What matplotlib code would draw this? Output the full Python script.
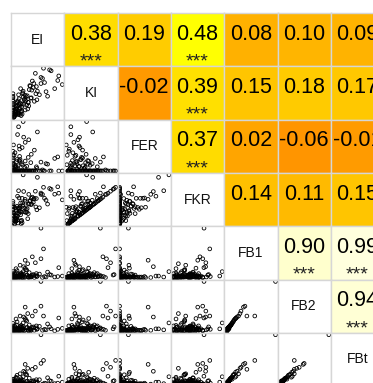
import matplotlib
matplotlib.use("Agg")
import matplotlib.pyplot as plt
from matplotlib.colors import LinearSegmentedColormap, Normalize

plt.rcParams['font.family'] = ['Liberation Sans', 'DejaVu Sans']

# ---------------- data ----------------
var_names = ["EI", "KI", "FER", "FKR", "FB1", "FB2", "FBt"]

EI = [55, 0, 0, 0, 0, 0, 0, 0, 0, 0,
      0, 0, 0, 0, 0, 3, 5, 6, 8, 10,
      12, 4, 7, 9, 11, 14, 16, 18, 20, 2,
      5, 8, 13, 15, 17, 22, 24, 26, 6, 9,
      12, 3, 10, 19, 21, 28, 30, 32, 35, 38,
      40, 42, 45, 27, 33, 36, 44, 48, 52, 58,
      62, 68, 75, 82, 90, 97, 1, 4, 7, 11,
      15, 23, 29, 34, 13, 16, 19, 25, 31, 37,
      2, 6, 14, 18, 20, 41, 47, 55, 65, 72,
      8, 12, 17, 24, 30, 9, 3, 46, 60, 88]

KI = [70, 10, 15, 22, 30, 38, 45, 50, 8, 28,
      18, 35, 42, 12, 25, 6, 20, 14, 32, 9,
      40, 16, 26, 11, 48, 22, 7, 30, 55, 4,
      13, 34, 20, 60, 24, 38, 18, 44, 10, 27,
      15, 8, 36, 52, 29, 46, 33, 58, 41, 75,
      62, 35, 50, 28, 66, 42, 90, 55, 48, 80,
      72, 45, 95, 60, 85, 68, 3, 17, 24, 12,
      30, 40, 20, 65, 9, 14, 50, 36, 26, 57,
      5, 19, 31, 10, 43, 70, 38, 82, 54, 97,
      21, 28, 16, 47, 33, 12, 6, 64, 100, 76]

FER = [17, 0, 12, 30, 0, 5, 20, 0, 38, 8,
       0, 25, 0, 15, 3, 0, 10, 0, 22, 0,
       0, 35, 0, 6, 0, 18, 0, 45, 0, 12,
       8, 0, 28, 0, 14, 0, 55, 0, 4, 0,
       20, 0, 10, 0, 65, 0, 26, 0, 16, 0,
       0, 40, 0, 9, 0, 32, 0, 75, 0, 2,
       0, 13, 0, 24, 0, 0, 50, 0, 18, 85,
       0, 7, 0, 0, 42, 0, 11, 0, 60, 0,
       30, 0, 22, 0, 95, 0, 5, 0, 14, 0,
       0, 48, 0, 19, 0, 70, 0, 8, 0, 27]

FKR = [64, 7.5, 20, 38, 22.5, 32, 48, 37.5, 33, 27,
       13.5, 44, 31.5, 20, 21, 4.5, 22, 10.5, 39, 6.75,
       30, 36.5, 19.5, 12.5, 36, 29, 5.25, 54, 41.25, 11.4,
       15.4, 25.5, 34.6, 45, 27.8, 28.5, 52, 33, 10.3, 20.25,
       25.3, 6, 34, 39, 67, 34.5, 43, 43.5, 42, 56.25,
       46.5, 54, 37.5, 27.3, 49.5, 54, 67.5, 94, 36, 61.4,
       54, 42.9, 71.25, 61.8, 63.75, 51, 37, 12.75, 30.6, 68.5,
       22.5, 35, 15, 48.75, 36, 10.5, 45, 27, 61.5, 42.75,
       24.8, 14.25, 38.7, 7.5, 98.75, 52.5, 32, 61.5, 50.3, 72.75,
       15.75, 54.6, 12, 48.6, 24.75, 58, 4.5, 53.6, 75, 76]

FB1 = [100, 2, 0, 5, 1, 3, 0, 8, 1, 4,
       0, 6, 2, 1, 12, 0, 3, 18, 1, 2,
       5, 0, 9, 1, 3, 25, 2, 0, 7, 1,
       3, 14, 0, 2, 6, 1, 35, 4, 0, 2,
       1, 8, 3, 0, 22, 5, 2, 10, 1, 42,
       6, 0, 4, 15, 2, 1, 30, 3, 7, 0,
       2, 11, 5, 1, 20, 3, 0, 6, 2, 1,
       4, 0, 28, 2, 1, 9, 3, 16, 0, 5,
       1, 3, 7, 0, 12, 4, 2, 38, 1, 6,
       0, 2, 5, 19, 1, 3, 0, 8, 58, 2]

FB2 = [100, 3, 1, 4, 2, 5, 0, 10, 1, 6,
       1, 5, 3, 0, 15, 1, 2, 24, 3, 2,
       4, 1, 12, 0, 5, 30, 1, 2, 9, 0,
       2, 18, 1, 3, 8, 0, 48, 6, 1, 3,
       0, 10, 2, 1, 28, 7, 3, 12, 0, 30,
       8, 1, 6, 20, 3, 2, 40, 4, 9, 1,
       3, 14, 4, 0, 26, 5, 1, 8, 3, 2,
       6, 1, 35, 3, 0, 11, 2, 22, 1, 7,
       0, 4, 9, 1, 16, 6, 3, 50, 2, 8,
       1, 3, 7, 25, 0, 4, 1, 10, 30, 3]

FBt = [100, 3, 0, 6, 1, 4, 0, 10, 1, 5,
       0, 7, 2, 1, 10, 0, 4, 14, 2, 2,
       6, 0, 12, 1, 3, 21, 2, 0, 8, 1,
       3, 18, 0, 2, 7, 1, 40, 5, 0, 2,
       1, 10, 3, 0, 26, 6, 3, 12, 1, 30,
       7, 0, 5, 19, 2, 1, 34, 4, 9, 0,
       2, 13, 6, 1, 16, 4, 0, 7, 2, 1,
       5, 0, 32, 2, 1, 11, 3, 20, 0, 6,
       1, 4, 8, 0, 15, 5, 2, 42, 1, 7,
       0, 2, 6, 24, 1, 4, 0, 9, 48, 2]

# upper triangle correlations (row i, columns i+1 ..)
corr_upper = [
    [0.38, 0.19, 0.48, 0.08, 0.10, 0.09],
    [-0.02, 0.39, 0.15, 0.18, 0.17],
    [0.37, 0.02, -0.06, -0.01],
    [0.14, 0.11, 0.15],
    [0.90, 0.99],
    [0.94],
]
stars_upper = [
    ["***", "", "***", "", "", ""],
    ["", "***", "", "", ""],
    ["***", "", "", ""],
    ["", "", ""],
    ["***", "***"],
    ["***"],
]

# ---------------- styling ----------------
anchor_vals = [-1.0, -0.1, -0.02, 0.02, 0.09, 0.15, 0.19, 0.38, 0.48, 0.6, 0.9, 1.0]
anchor_cols = ['#FF0000', '#FF9000', '#FF9900', '#FFA500', '#FFB300', '#FFC400',
               '#FFCC00', '#FFDD00', '#FFFF00', '#FFFF66', '#FFFFCC', '#FFFFE0']
cmap = LinearSegmentedColormap.from_list(
    "heatish", [((v + 1) / 2, c) for v, c in zip(anchor_vals, anchor_cols)])
norm = Normalize(-1, 1)

W, H = 373, 383
fig = plt.figure(figsize=(W / 100, H / 100), dpi=100)
cell = 53.3
x_start, y_start = 11, 13
border = '#D6D6D6'

data = [EI, KI, FER, FKR, FB1, FB2, FBt]
n = len(var_names)


def make_ax(i, j):
    left = x_start + j * cell
    top = y_start + i * cell
    ax = fig.add_axes([left / W, 1 - (top + cell) / H, cell / W, cell / H])
    ax.set_xticks([])
    ax.set_yticks([])
    for s in ax.spines.values():
        s.set_color(border)
        s.set_linewidth(1.0)
    return ax


def lims(v):
    lo, hi = min(v), max(v)
    pad = 0.04 * (hi - lo)
    return lo - pad, hi + pad


for i in range(n):
    for j in range(n):
        ax = make_ax(i, j)
        if i == j:
            ax.set_xlim(0, 1)
            ax.set_ylim(0, 1)
            ax.text(0.5, 0.5, var_names[i], ha='center', va='center',
                    fontsize=10, color='#111111')
        elif j > i:
            r = corr_upper[i][j - i - 1]
            st = stars_upper[i][j - i - 1]
            ax.set_facecolor(cmap(norm(r)))
            ax.set_xlim(0, 1)
            ax.set_ylim(0, 1)
            ax.text(0.5, 0.6, f"{r:.2f}", ha='center', va='center',
                    fontsize=15.5, color='black')
            if st:
                ax.text(0.5, 0.08, st, ha='center', va='center',
                        fontsize=14, color='#222222')
        else:
            ax.scatter(data[j], data[i], s=7, facecolors='none',
                       edgecolors='black', linewidths=0.6)
            ax.set_xlim(*lims(data[j]))
            ax.set_ylim(*lims(data[i]))

fig.savefig("out.png", dpi=100)
